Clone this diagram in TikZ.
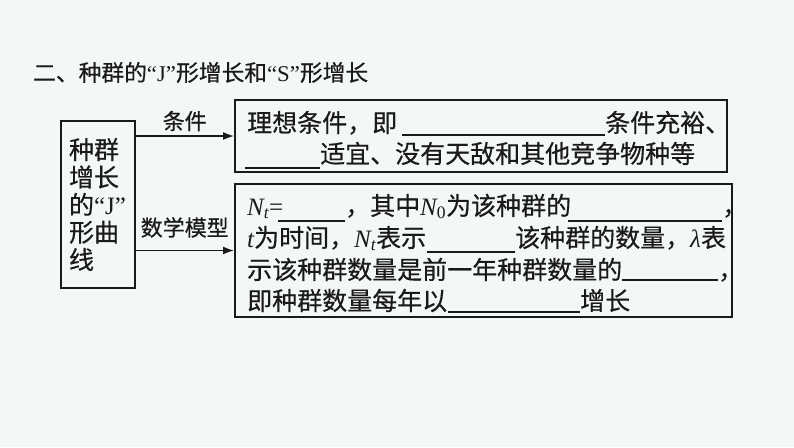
\documentclass[tikz,border=0pt]{standalone}
\usepackage{fontspec}
\usepackage{graphicx}
\usetikzlibrary{arrows.meta}
\newfontfamily\cjk[FakeBold=0.5]{Noto Sans CJK SC}
\newfontfamily\tms{Liberation Serif}
\definecolor{bg}{HTML}{F3F7F5}
\definecolor{ink}{HTML}{1A1A1A}
\newcommand\Nsym[1]{{\tms\itshape N\textsubscript{#1}}}
\begin{document}
\begin{tikzpicture}[x=1pt,y=-1pt,
  box/.style={draw=ink, line width=2pt, inner sep=0pt},
  txt/.style={anchor=base west, inner sep=0pt, text=ink, font=\cjk\fontsize{25}{30}\selectfont},
  lbl/.style={inner sep=0pt, text=ink, font=\cjk\fontsize{22}{26}\selectfont},
  arr/.style={draw=ink, line width=1.6pt, -{Latex[length=11pt,width=8pt]}},
  blank/.style={draw=ink, line width=1.3pt}]
\fill[bg] (0,0) rectangle (794,447);
\useasboundingbox (0,0) rectangle (794,447);
% title
\node[anchor=base west, inner sep=0pt, text=ink, font=\cjk\fontsize{22.5}{26}\selectfont] (title) at (33,81)
  {\resizebox{335pt}{\height}{二、种群的{\tms “J”}形增长和{\tms “S”}形增长}};
% left box
\node[box, minimum width=74pt, minimum height=167pt, align=left, text=ink,
  font=\cjk\fontsize{25}{27.5}\selectfont] (lbox) at (97.5,204.5)
  {种群\\增长\\的{\tms “J”}\\形曲\\线};
% right boxes
\node[box, minimum width=492pt, minimum height=72pt] (b1) at (481,136) {};
\node[box, minimum width=497pt, minimum height=133pt] (b2) at (483.5,250.5) {};
% arrows
\draw[arr] (lbox.east |- b1.west) -- node[lbl, above=4pt] (l1) {条件} (b1.west);
\draw[arr] (lbox.east |- b2.west) -- node[lbl, above=12pt] (l2) {数学模型} (b2.west);
% box 1 text
\node[txt] (t11) at (247,132) {理想条件，即};
\draw[blank] (402,135) -- (605,135);
\node[txt] (t12) at (605,132) {条件充裕、};
\draw[blank] (245,168) -- (320,168);
\node[txt] (t13) at (320,163) {适宜、没有天敌和其他竞争物种等};
% box 2 text
\node[txt] (t21) at (247,215) {\Nsym{\tms\itshape t}{\tms =}};
\draw[blank] (278,221) -- (345,221);
\node[txt] (t22) at (345,215) {，其中\Nsym{\tms\upshape 0}为该种群的};
\draw[blank] (568,221) -- (722,221);
\node[txt] (t23) at (722,215) {，};
\node[txt] (t24) at (247,247) {{\tms\itshape t}为时间，\Nsym{t}表示};
\draw[blank] (427,252) -- (515,252);
\node[txt] (t25) at (515,247) {该种群的数量，{\tms\itshape λ}表};
\node[txt] (t26) at (247,279) {示该种群数量是前一年种群数量的};
\draw[blank] (622,280) -- (718,280);
\node[txt] (t27) at (718,279) {，};
\node[txt] (t28) at (247,310) {即种群数量每年以};
\draw[blank] (448,312) -- (580,312);
\node[txt] (t29) at (580,310) {增长};
\end{tikzpicture}
\end{document}
